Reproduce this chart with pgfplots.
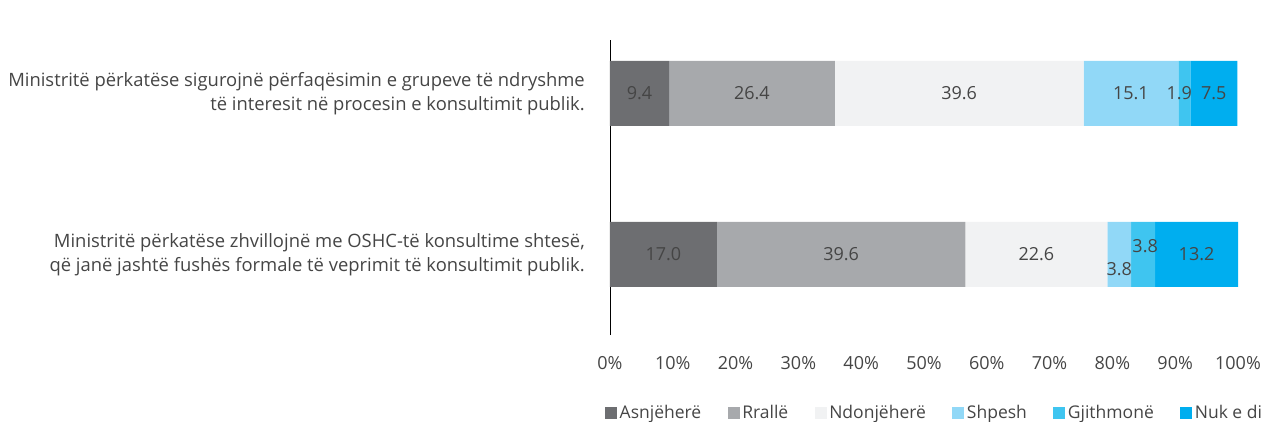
\documentclass[border=0pt]{standalone}
\usepackage{pgfplots}
\pgfplotsset{compat=1.18}
\usepackage{pgfplotstable}
\usepackage{fontspec}
\setmainfont{Open Sans}
\definecolor{cA}{HTML}{6D6E71}
\definecolor{cR}{HTML}{A7A9AC}
\definecolor{cN}{HTML}{F1F2F3}
\definecolor{cS}{HTML}{91D8F7}
\definecolor{cG}{HTML}{3FC5F0}
\definecolor{cD}{HTML}{00AEEF}
\definecolor{txt}{HTML}{454545}
\pgfplotstableread{
c A R N S G D dyS dyG dxG
1 9.4 26.4 39.6 15.1 1.9 7.5 0 0 -5
0 17.0 39.6 22.6 3.8 3.8 13.2 -15 8 2
}\data
\begin{document}
\begin{tikzpicture}
\begin{axis}[
  scale only axis, width=628pt, height=295pt,
  xbar stacked, bar width=65pt,
  xmin=0, xmax=100, ymin=-0.5, ymax=1.332,
  clip=false,
  axis lines*=left,
  x axis line style={draw=none},
  y axis line style={-, black, line width=0.8pt},
  major tick length=0pt,
  /pgf/number format/assume math mode=true,
  xtick={0,10,...,100},
  xticklabel={\pgfmathprintnumber{\tick}\%},
  xticklabel style={font=\fontsize{18}{20}\selectfont, text=txt, inner sep=0pt, yshift=-21pt},
  ytick={0,1},
  yticklabels={{Ministritë përkatëse zhvillojnë me OSHC-të konsultime shtesë,\\që janë jashtë fushës formale të veprimit të konsultimit publik.},{Ministritë përkatëse sigurojnë përfaqësimin e grupeve të ndryshme\\të interesit në procesin e konsultimit publik.}},
  yticklabel style={align=right, font=\fontsize{18.4}{24}\selectfont, text=txt, inner sep=0pt, xshift=-25pt},
  nodes near coords={\pgfmathprintnumber[fixed,fixed zerofill,precision=1]{\pgfplotspointmeta}},
  point meta=explicit,
  every node near coord/.append style={anchor=center, font=\fontsize{18}{20}\selectfont, text=txt},
  legend columns=6,
  legend style={at={(0,0)}, anchor=west, xshift=-5pt, yshift=-78pt, draw=none, fill=none,
    font=\fontsize{17.5}{20}\selectfont, text=txt, inner sep=0pt,
    nodes={inner sep=2.5pt},
    /tikz/every even column/.append style={column sep=24pt}},
  legend image code/.code={\fill[#1] (0pt,-6pt) rectangle (12pt,6pt);},
]
\addplot[fill=cA, draw=none] table[x=A, y=c, meta=A] {\data};
\addlegendentry{Asnjëherë}
\addplot[fill=cR, draw=none] table[x=R, y=c, meta=R] {\data};
\addlegendentry{Rrallë}
\addplot[fill=cN, draw=none] table[x=N, y=c, meta=N] {\data};
\addlegendentry{Ndonjëherë}
\addplot[fill=cS, draw=none,
  visualization depends on={\thisrow{dyS} \as \dy},
  every node near coord/.append style={yshift=\dy*1pt}] table[x=S, y=c, meta=S] {\data};
\addlegendentry{Shpesh}
\addplot[fill=cG, draw=none,
  visualization depends on={\thisrow{dyG} \as \dy},
  visualization depends on={\thisrow{dxG} \as \dx},
  every node near coord/.append style={xshift=\dx*1pt, yshift=\dy*1pt}] table[x=G, y=c, meta=G] {\data};
\addlegendentry{Gjithmonë}
\addplot[fill=cD, draw=none] table[x=D, y=c, meta=D] {\data};
\addlegendentry{Nuk e di}
\coordinate (o) at (rel axis cs:0,0);
\end{axis}
\pgfresetboundingbox
\path[use as bounding box] ([shift={(-610pt,-86pt)}]o) rectangle ([shift={(653pt,335pt)}]o);
\end{tikzpicture}
\end{document}
